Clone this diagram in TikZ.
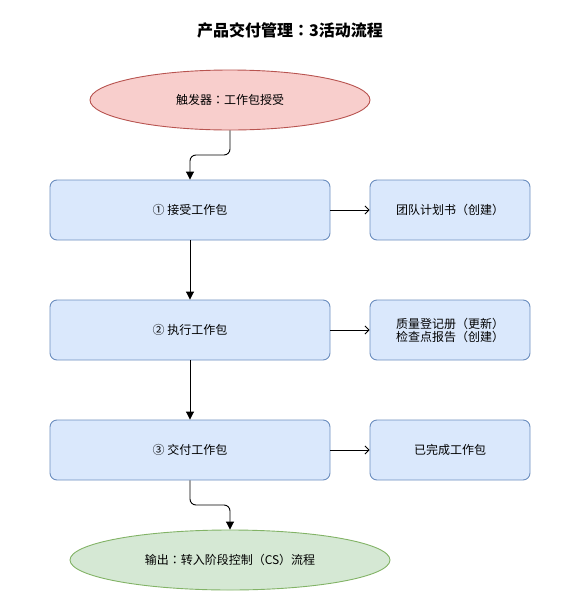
\documentclass[tikz,border=0pt]{standalone}
\usepackage{fontspec}
\setmainfont{Noto Sans CJK SC}
\newfontfamily\jpfont{Noto Sans CJK JP}
\newcommand{\cc}{{\jpfont ：}}
\usetikzlibrary{arrows.meta,shapes.geometric}
\definecolor{bluefill}{HTML}{DAE8FC}
\definecolor{bluedraw}{HTML}{6C8EBF}
\definecolor{redfill}{HTML}{F8CECC}
\definecolor{reddraw}{HTML}{B85450}
\definecolor{greenfill}{HTML}{D5E8D4}
\definecolor{greendraw}{HTML}{82B366}
\tikzset{
  txt/.style={font=\fontsize{12}{15}\selectfont},
  stepbox/.style={txt,draw=bluedraw,fill=bluefill,rounded corners=7pt,minimum width=280pt,minimum height=60pt,inner sep=0pt,line width=0.9pt},
  outbox/.style={txt,draw=bluedraw,fill=bluefill,rounded corners=7pt,minimum width=160pt,minimum height=60pt,inner sep=0pt,align=center,line width=0.9pt},
  trig/.style={txt,ellipse,draw=reddraw,fill=redfill,minimum width=280pt,minimum height=60pt,inner sep=0pt,line width=0.9pt},
  outell/.style={txt,ellipse,draw=greendraw,fill=greenfill,minimum width=320pt,minimum height=60pt,inner sep=0pt,line width=0.9pt},
  flow/.style={draw,line width=0.9pt,-{Triangle[length=8pt,width=8pt]},rounded corners=6pt},
  side/.style={draw,line width=0.9pt,-{Straight Barb[length=4pt,width=8pt]}},
}
\begin{document}
\begin{tikzpicture}[x=1pt,y=-1pt]
\useasboundingbox (0,0) rectangle (582,603);
\node[font=\bfseries\fontsize{16}{19}\selectfont] (title) at (290,30) {产品交付管理\cc 3活动流程};
\node[trig] (trig) at (230,100) {触发器\cc 工作包授受};
\node[stepbox] (s1) at (190,210) {① 接受工作包};
\node[stepbox] (s2) at (190,330) {② 执行工作包};
\node[stepbox] (s3) at (190,450) {③ 交付工作包};
\node[outbox] (o1) at (450,210) {团队计划书（创建）};
\node[outbox] (o2) at (450,330) {质量登记册（更新）\\[-2pt]检查点报告（创建）};
\node[outbox] (o3) at (450,450) {已完成工作包};
\node[outell] (out) at (230,560) {输出\cc 转入阶段控制（CS）流程};
\coordinate (m1) at (230,155);
\coordinate (m2) at (190,505);
\draw[flow] (trig.south) -- (m1) -| (s1.north);
\draw[flow] (s1.south) -- (s2.north);
\draw[flow] (s2.south) -- (s3.north);
\draw[flow] (s3.south) -- (m2) -| (out.north);
\draw[side] (s1.east) -- (o1.west);
\draw[side] (s2.east) -- (o2.west);
\draw[side] (s3.east) -- (o3.west);
\end{tikzpicture}
\end{document}
